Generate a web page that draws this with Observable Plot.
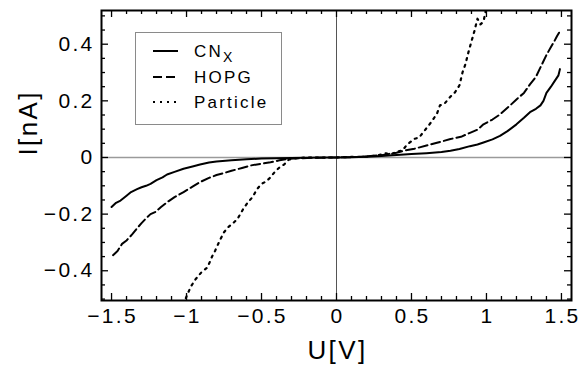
<!DOCTYPE html>
<html>
<head>
<meta charset="utf-8">
<script src="https://cdn.jsdelivr.net/npm/d3@7"></script>
<script src="https://cdn.jsdelivr.net/npm/@observablehq/plot@0.6"></script>
<style>
  html, body { margin: 0; padding: 0; background: #fff; }
  #wrap { position: relative; width: 581px; height: 377px; font-family: "Liberation Sans", Arial, sans-serif; }
  #legend { position: absolute; left: 135px; top: 32px; width: 147px; height: 93px; border: 1px solid #8a8a8a; background: #fff; box-sizing: border-box; }
  #chart g[aria-label="x-axis tick label"] text,
  #chart g[aria-label="y-axis tick label"] text { letter-spacing: 2.3px; }
  #chart g[aria-label="text"] text { letter-spacing: 2.4px; }
  #legend text { letter-spacing: 2.2px; }
</style>
</head>
<body>
<div id="wrap"><div id="chart"></div><svg id="legend" width="147" height="93"></svg></div>
<script>
// ---- data ----
const cnxU = [-1.50,-1.47,-1.44,-1.40,-1.37,-1.33,-1.30,-1.27,-1.24,-1.20,-1.16,-1.13,-1.08,-1.02,-0.96,-0.91,-0.85,-0.80,-0.70,-0.60,-0.50,-0.40,-0.30,-0.20,-0.10,0.00,0.10,0.20,0.30,0.40,0.50,0.60,0.70,0.76,0.82,0.89,0.94,0.98,1.04,1.09,1.14,1.20,1.25,1.29,1.33,1.36,1.38,1.40,1.43,1.45,1.47,1.48,1.49];
const cnxI = [-0.175,-0.160,-0.152,-0.135,-0.122,-0.112,-0.105,-0.100,-0.093,-0.080,-0.070,-0.060,-0.051,-0.040,-0.032,-0.025,-0.018,-0.014,-0.010,-0.006,-0.004,-0.003,-0.002,-0.001,0.000,0.000,0.001,0.003,0.005,0.009,0.012,0.015,0.019,0.024,0.030,0.040,0.046,0.053,0.064,0.076,0.093,0.117,0.140,0.160,0.172,0.184,0.200,0.228,0.250,0.266,0.282,0.290,0.312];

const hopgU = [-1.49,-1.46,-1.43,-1.40,-1.36,-1.33,-1.30,-1.27,-1.24,-1.21,-1.17,-1.13,-1.08,-1.02,-0.96,-0.91,-0.85,-0.80,-0.75,-0.70,-0.63,-0.57,-0.50,-0.44,-0.38,-0.33,-0.25,-0.15,0.00,0.15,0.30,0.40,0.45,0.52,0.60,0.67,0.76,0.83,0.89,0.94,0.98,1.04,1.09,1.15,1.20,1.25,1.29,1.33,1.36,1.40,1.43,1.45,1.47,1.49];
const hopgI = [-0.345,-0.330,-0.305,-0.293,-0.270,-0.250,-0.232,-0.215,-0.200,-0.193,-0.175,-0.158,-0.140,-0.122,-0.103,-0.087,-0.072,-0.062,-0.055,-0.047,-0.037,-0.028,-0.022,-0.017,-0.010,-0.005,-0.003,-0.001,0.000,0.002,0.008,0.017,0.024,0.031,0.042,0.052,0.065,0.073,0.087,0.098,0.117,0.134,0.152,0.180,0.205,0.228,0.258,0.285,0.318,0.362,0.390,0.408,0.428,0.446];

const partU = [-1.02,-1.00,-0.97,-0.94,-0.90,-0.86,-0.83,-0.81,-0.78,-0.75,-0.72,-0.69,-0.66,-0.62,-0.59,-0.56,-0.53,-0.50,-0.47,-0.44,-0.41,-0.38,-0.35,-0.32,-0.28,-0.20,-0.10,0.00,0.10,0.20,0.28,0.33,0.36,0.40,0.44,0.47,0.52,0.55,0.58,0.61,0.64,0.67,0.69,0.72,0.76,0.79,0.82,0.84,0.86,0.88,0.90,0.92,0.94,0.96,0.98,1.00];
const partI = [-0.520,-0.490,-0.455,-0.430,-0.405,-0.388,-0.350,-0.330,-0.295,-0.264,-0.245,-0.232,-0.217,-0.180,-0.158,-0.140,-0.112,-0.093,-0.085,-0.070,-0.050,-0.035,-0.025,-0.008,-0.003,0.000,0.000,0.000,0.002,0.003,0.008,0.015,0.010,0.020,0.025,0.045,0.066,0.070,0.090,0.110,0.131,0.155,0.184,0.190,0.215,0.230,0.255,0.300,0.330,0.372,0.410,0.447,0.490,0.470,0.480,0.530];

const seriesNames = ["CN", "HOPG", "Particle"];
const xMajor = [-1.5, -1, -0.5, 0, 0.5, 1, 1.5];
const xMinor = [-1.4,-1.3,-1.2,-1.1,-0.9,-0.8,-0.7,-0.6,-0.4,-0.3,-0.2,-0.1,0.1,0.2,0.3,0.4,0.6,0.7,0.8,0.9,1.1,1.2,1.3,1.4];
const yMajor = [-0.4, -0.2, 0, 0.2, 0.4];
const yMinor = [-0.5,-0.45,-0.35,-0.3,-0.25,-0.15,-0.1,-0.05,0.05,0.1,0.15,0.25,0.3,0.35,0.45,0.5];

// ---- layout ----
const W = 581, H = 377, mL = 101, mR = 10, mT = 10, mB = 77;
const xDom = [-1.567, 1.567], yDom = [-0.505, 0.519];
const innerW = W - mL - mR, innerH = H - mT - mB;
const xu = px => px * (xDom[1] - xDom[0]) / innerW; // px -> data units
const yu = px => px * (yDom[1] - yDom[0]) / innerH;
const fmt = d => (d < 0 ? "\u2212" : "") + String(Math.abs(d));

const toRows = (U, I) => U.map((u, i) => ({u, i: I[i]}));
const cnx = toRows(cnxU, cnxI), hopg = toRows(hopgU, hopgI), part = toRows(partU, partI);

const majL = 7, minL = 4;
const tickMarks = [];
for (const [arr, L] of [[xMajor, majL], [xMinor, minL]]) {
  tickMarks.push(Plot.ruleX(arr, {x: d => d, y1: yDom[0], y2: yDom[0] + yu(L), stroke: "black", strokeWidth: 1.3}));
  tickMarks.push(Plot.ruleX(arr, {x: d => d, y1: yDom[1], y2: yDom[1] - yu(L), stroke: "black", strokeWidth: 1.3}));
}
for (const [arr, L] of [[yMajor, majL], [yMinor, minL]]) {
  tickMarks.push(Plot.ruleY(arr, {y: d => d, x1: xDom[0], x2: xDom[0] + xu(L), stroke: "black", strokeWidth: 1.3}));
  tickMarks.push(Plot.ruleY(arr, {y: d => d, x1: xDom[1], x2: xDom[1] - xu(L), stroke: "black", strokeWidth: 1.3}));
}

const chart = Plot.plot({
  width: W, height: H,
  marginLeft: mL, marginRight: mR, marginTop: mT, marginBottom: mB,
  style: {fontFamily: "'Liberation Sans', Arial, sans-serif", background: "white", color: "black"},
  x: {domain: xDom},
  y: {domain: yDom},
  marks: [
    Plot.ruleY([0], {stroke: "#9a9a9a", strokeWidth: 1.5}),
    Plot.ruleX([0], {stroke: "#555", strokeWidth: 1}),
    Plot.line(cnx, {x: "u", y: "i", stroke: "black", strokeWidth: 2, clip: true}),
    Plot.line(hopg, {x: "u", y: "i", stroke: "black", strokeWidth: 2, strokeDasharray: "9,4", clip: true}),
    Plot.line(part, {x: "u", y: "i", stroke: "black", strokeWidth: 2.2, strokeDasharray: "2,5", clip: true}),
    ...tickMarks,
    Plot.frame({stroke: "black", strokeWidth: 2}),
    Plot.axisX(xMajor, {tickSize: 0, tickPadding: 8, fontSize: 21, tickFormat: fmt, label: null, dx: 1}),
    Plot.axisY(yMajor, {tickSize: 0, tickPadding: 7, fontSize: 21, tickFormat: fmt, label: null}),
    Plot.text(["U[V]"], {frameAnchor: "bottom", dy: 58, dx: 1, fontSize: 26}),
    Plot.text(["I[nA]"], {frameAnchor: "left", dx: -73, rotate: -90, fontSize: 26})
  ]
});
document.getElementById("chart").appendChild(chart);

// ---- legend ----
const lg = d3.select("#legend");
const styles = [null, "9,4", "2,5"];
const rowsY = [18, 44, 69];
seriesNames.forEach((name, k) => {
  lg.append("line").attr("x1", 17).attr("x2", 42).attr("y1", rowsY[k]).attr("y2", rowsY[k])
    .attr("stroke", "black").attr("stroke-width", k === 2 ? 2.2 : 2)
    .attr("stroke-dasharray", styles[k]);
  const t = lg.append("text").attr("x", 58).attr("y", rowsY[k]).attr("dy", "0.36em")
    .attr("font-size", 17).attr("font-family", "'Liberation Sans', Arial, sans-serif").text(name);
  if (k === 0) t.append("tspan").attr("dy", "0.35em").attr("font-size", 14).text("X");
});
</script>
</body>
</html>
